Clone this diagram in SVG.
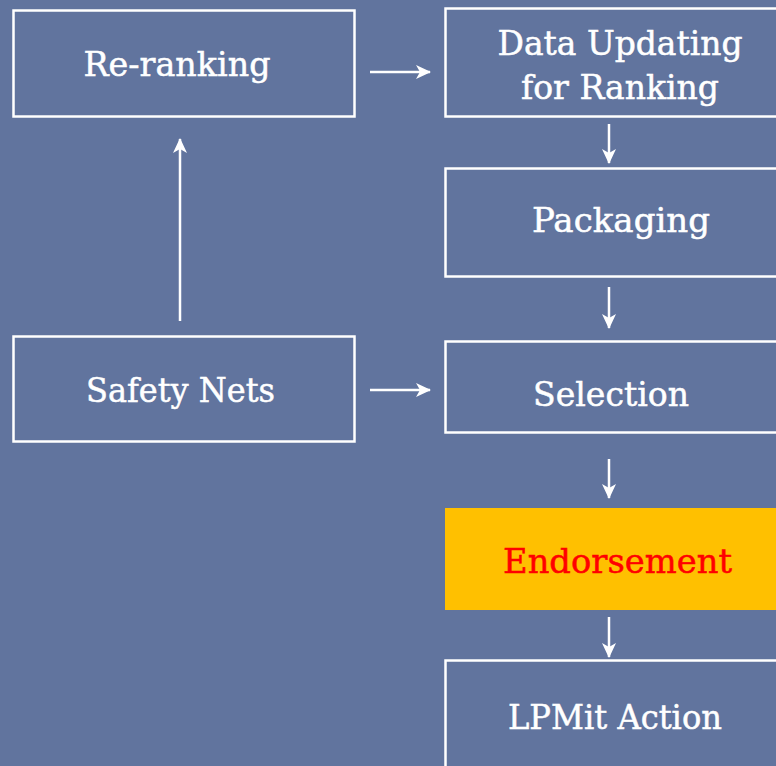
<svg xmlns="http://www.w3.org/2000/svg" width="776" height="766" viewBox="0 0 776 766">
<defs>
<style>
.box{fill:none;stroke:#fff;stroke-width:2.5}
.t{font-family:"DejaVu Serif","Liberation Serif",serif;font-size:33px;fill:#fff;text-anchor:middle;stroke:#fff;stroke-width:0.5}
.c{stroke:#fff;stroke-width:2.5;fill:none}
</style>
<marker id="ah" viewBox="0 0 15 14" refX="14" refY="7" markerWidth="15" markerHeight="14" markerUnits="userSpaceOnUse" orient="auto">
<path d="M0,0 L15,7 L0,14 L4,7 Z" fill="#fff"/>
</marker>
</defs>
<rect width="776" height="766" fill="#61749E"/>
<g id="rerank"><rect class="box" x="13.5" y="10.5" width="341" height="106"/><text class="t" x="177" y="76" textLength="187" lengthAdjust="spacingAndGlyphs">Re-ranking</text></g>
<g id="dataupd"><rect class="box" x="445.5" y="8.5" width="340" height="108"/><text class="t" x="620" y="55" textLength="245" lengthAdjust="spacingAndGlyphs">Data Updating</text><text class="t" x="620" y="99" textLength="198" lengthAdjust="spacingAndGlyphs">for Ranking</text></g>
<g id="packaging"><rect class="box" x="445.5" y="168.5" width="340" height="108"/><text class="t" x="621" y="232" textLength="178" lengthAdjust="spacingAndGlyphs">Packaging</text></g>
<g id="safety"><rect class="box" x="13.5" y="336.5" width="341" height="105"/><text class="t" x="180.5" y="402" textLength="189" lengthAdjust="spacingAndGlyphs">Safety Nets</text></g>
<g id="selection"><rect class="box" x="445.5" y="341.5" width="340" height="91"/><text class="t" x="611" y="406" textLength="156" lengthAdjust="spacingAndGlyphs">Selection</text></g>
<g id="endorse"><rect x="445" y="508" width="331" height="102" fill="#FFC000"/><text class="t" x="617.5" y="573" style="fill:#FF0000;stroke:#FF0000" textLength="229" lengthAdjust="spacingAndGlyphs">Endorsement</text></g>
<g id="lpmit"><rect class="box" x="445.5" y="660.5" width="340" height="120"/><text class="t" x="615" y="729" textLength="214" lengthAdjust="spacingAndGlyphs">LPMit Action</text></g>
<g id="connectors">
<line class="c" x1="370" y1="72" x2="430" y2="72" marker-end="url(#ah)"/>
<line class="c" x1="370" y1="390" x2="430" y2="390" marker-end="url(#ah)"/>
<line class="c" x1="180" y1="321" x2="180" y2="139" marker-end="url(#ah)"/>
<line class="c" x1="609" y1="124" x2="609" y2="163" marker-end="url(#ah)"/>
<line class="c" x1="609" y1="287" x2="609" y2="328" marker-end="url(#ah)"/>
<line class="c" x1="609" y1="459" x2="609" y2="498" marker-end="url(#ah)"/>
<line class="c" x1="609" y1="617" x2="609" y2="657" marker-end="url(#ah)"/>
</g>
</svg>
